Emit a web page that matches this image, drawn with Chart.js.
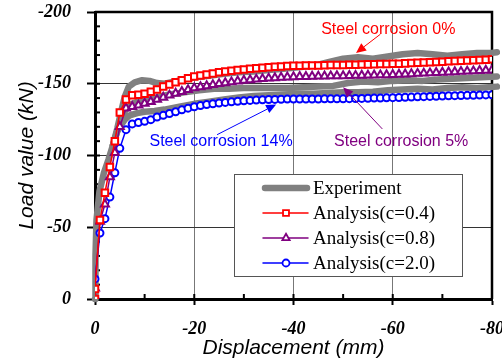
<!DOCTYPE html>
<html>
<head>
  <meta charset="utf-8">
  <title>Load - displacement</title>
  <script src="https://cdn.jsdelivr.net/npm/chart.js@4.4.0/dist/chart.umd.min.js"></script>
  <style>
    html, body { margin: 0; padding: 0; background: #ffffff; }
  </style>
</head>
<body>
<canvas id="myChart" width="502" height="362"></canvas>
<script>
  // analysis results: shared displacement steps (mm)
  const disp = [0, 0, -1, -2, -3, -4, -5, -6.25,
    -7.5, -8.75, -10, -11.25, -12.5, -13.75, -15, -16.25, -17.5, -18.75,
    -20, -21.25, -22.5, -23.75, -25, -26.25, -27.5, -28.75, -30, -31.25,
    -32.5, -33.75, -35, -36.25, -37.5, -38.75, -40, -41.25, -42.5, -43.75,
    -45, -46.25, -47.5, -48.75, -50, -51.25, -52.5, -53.75, -55, -56.25,
    -57.5, -58.75, -60, -61.25, -62.5, -63.75, -65, -66.25, -67.5, -68.75,
    -70, -71.25, -72.5, -73.75, -75, -76.25, -77.5, -78.75, -80];

  const loadC04 = [0, -7, -55, -74, -92, -110, -130, -139,
    -142.0, -142.3, -143.0, -144.5, -146.0, -148.0, -149.5, -151.0, -152.5, -153.8,
    -155.0, -155.8, -156.5, -157.2, -158.0, -158.5, -159.0, -159.5, -160.0, -160.4,
    -160.8, -161.2, -161.5, -161.8, -162.0, -162.3, -162.5, -162.6, -162.7, -162.8,
    -162.8, -162.9, -163.0, -163.0, -163.1, -163.2, -163.3, -163.4, -163.5, -163.6,
    -163.7, -163.8, -163.9, -164.0, -164.2, -164.4, -164.6, -164.8, -165.0, -165.2,
    -165.4, -165.6, -165.8, -166.0, -166.2, -166.4, -166.6, -166.8, -167.0];

  const loadC08 = [0, -7.5, -54, -66, -85, -102, -120, -133,
    -134.0, -135.0, -136.3, -137.5, -139.0, -140.5, -142.0, -143.3, -144.5, -145.8,
    -147.0, -147.8, -148.5, -149.3, -150.0, -150.6, -151.2, -151.8, -152.3, -152.7,
    -153.1, -153.5, -153.8, -154.1, -154.4, -154.6, -154.8, -154.9, -155.0, -155.1,
    -155.2, -155.3, -155.4, -155.5, -155.5, -155.6, -155.7, -155.8, -155.9, -156.0,
    -156.1, -156.2, -156.3, -156.5, -156.7, -156.9, -157.1, -157.3, -157.5, -157.7,
    -157.9, -158.1, -158.3, -158.5, -158.7, -158.9, -159.1, -159.3, -159.5];

  const loadC20 = [0, -14, -46, -56, -71, -88, -105, -118,
    -122.0, -123.0, -123.8, -125.0, -126.8, -128.0, -129.3, -130.5, -131.8, -133.0,
    -134.0, -134.8, -135.5, -136.0, -136.5, -137.0, -137.4, -137.8, -138.1, -138.4,
    -138.6, -138.8, -139.0, -139.1, -139.2, -139.3, -139.4, -139.4, -139.4, -139.4,
    -139.4, -139.5, -139.5, -139.5, -139.5, -139.6, -139.7, -139.8, -139.9, -140.0,
    -140.1, -140.2, -140.3, -140.4, -140.6, -140.7, -140.9, -141.0, -141.2, -141.3,
    -141.5, -141.6, -141.7, -141.8, -141.9, -142.0, -142.1, -142.2, -142.3];

  // experiment (three specimens, drawn in grey)
  const expDisp0 = [0, -0.1, -0.3, -0.9, -1.8, -2.7, -3.6, -4.5, -5.3, -6.0,
    -6.8, -8, -9.5, -11, -12.5, -14, -16, -18, -20, -23,
    -26, -29, -32, -35, -38, -41, -44, -47, -50, -53,
    -56, -59, -62, -65, -68, -71, -74, -77, -80, -81];
  const expLoad0 = [0, -30, -55, -75, -88, -97, -107, -119, -131, -141,
    -148, -151, -152.5, -152, -150.5, -150, -151.5, -153, -154.5, -155.5,
    -157, -158, -158.5, -159.5, -160.5, -161.5, -162.5, -165, -167.5, -168.5,
    -167.5, -169, -170.5, -171.5, -170.5, -169.5, -170.5, -171.5, -171.5, -172];

  const expDisp5 = [-3.6, -4.5, -5.3, -6.2, -7.5, -9, -11, -13, -15, -18, -21,
    -24, -27, -30, -33, -36, -39, -42, -45, -48, -51,
    -54, -57, -60, -63, -66, -69, -72, -75, -78, -81];
  const expLoad5 = [-107, -117, -126, -132, -136, -138, -139.5, -141, -142.5, -144, -145.5,
    -146.5, -146.5, -147, -147, -147, -147, -147.5, -148, -148.5, -150.5,
    -151.5, -151, -152, -152.5, -152, -153, -153.5, -154, -154.5, -155];

  const expDisp14 = [-3.6, -4.5, -5.2, -6, -7, -8.5, -10, -12, -14, -17, -20,
    -23, -26, -29, -32, -35, -38, -41, -44, -47, -50,
    -53, -56, -59, -62, -65, -68, -71, -74, -77, -81];
  const expLoad14 = [-107, -117, -121, -125, -128, -129.5, -130.5, -131, -132, -134, -136,
    -137.5, -139, -140.5, -141.5, -142, -142.5, -143, -143, -143.5, -144,
    -144, -144.5, -145.5, -146, -146.5, -146, -147, -147.5, -147, -148];

  const xTickStep = 20;
  const yTickStep = 50;

  // text notes with arrows, in data units
  const notes = [
    { text: 'Steel corrosion 0%', color: '#ff0000', at: [-59.1, -188], from: [-57.5, -184.5], to: [-52.6, -171.5] },
    { text: 'Steel corrosion 5%', color: '#800080', at: [-61.7, -109.5], from: [-57.9, -118.5], to: [-50.0, -147.5] },
    { text: 'Steel corrosion 14%', color: '#0000ff', at: [-25.4, -109.5], from: [-24.6, -114.5], to: [-36.5, -135.5] }
  ];

  function pts(xs, ys) {
    return xs.map((x, i) => ({ x: x, y: ys[i] }));
  }

  function analysis(label, ys, color, style) {
    return {
      label: label,
      data: pts(disp, ys),
      borderColor: color,
      borderWidth: 1.5,
      pointStyle: style,
      pointRadius: style === 'circle' ? 3.5 : 4.6,
      pointBorderWidth: 2,
      pointBorderColor: color,
      pointBackgroundColor: '#ffffff',
      tension: 0
    };
  }

  function experiment(label, xs, ys) {
    return {
      label: label,
      data: pts(xs, ys),
      borderColor: '#808080',
      borderWidth: 6.5,
      borderJoinStyle: 'round',
      borderCapStyle: 'round',
      pointRadius: 0,
      tension: 0,
      clip: 8
    };
  }

  const frameAndTicks = {
    id: 'frameAndTicks',
    beforeDatasetsDraw(chart) {
      const ctx = chart.ctx;
      const a = chart.chartArea;
      const xs = chart.scales.x, ys = chart.scales.y;
      ctx.save();
      ctx.strokeStyle = '#000';
      ctx.lineWidth = 2;
      for (let v = 0; v >= -80; v -= 10) {
        const px = xs.getPixelForValue(v);
        ctx.beginPath(); ctx.moveTo(px, a.bottom); ctx.lineTo(px, a.bottom - 5); ctx.stroke();
      }
      for (let v = 0; v >= -200; v -= 10) {
        const py = ys.getPixelForValue(v);
        ctx.beginPath(); ctx.moveTo(a.left, py); ctx.lineTo(a.left + 5, py); ctx.stroke();
      }
      ctx.lineWidth = 2.5;
      ctx.beginPath();
      ctx.moveTo(a.left, a.top); ctx.lineTo(a.right, a.top); ctx.lineTo(a.right, a.bottom);
      ctx.stroke();
      ctx.restore();
    }
  };

  function arrow(ctx, x1, y1, x2, y2, color) {
    const ang = Math.atan2(y2 - y1, x2 - x1);
    const len = 10, half = 4.5;
    ctx.strokeStyle = color;
    ctx.fillStyle = color;
    ctx.lineWidth = 1;
    ctx.beginPath();
    ctx.moveTo(x1, y1);
    ctx.lineTo(x2 - Math.cos(ang) * len, y2 - Math.sin(ang) * len);
    ctx.stroke();
    ctx.beginPath();
    ctx.moveTo(x2, y2);
    ctx.lineTo(x2 - Math.cos(ang) * len - Math.sin(ang) * half, y2 - Math.sin(ang) * len + Math.cos(ang) * half);
    ctx.lineTo(x2 - Math.cos(ang) * len + Math.sin(ang) * half, y2 - Math.sin(ang) * len - Math.cos(ang) * half);
    ctx.closePath();
    ctx.fill();
  }

  const notesAndLegend = {
    id: 'notesAndLegend',
    afterDraw(chart) {
      const ctx = chart.ctx;
      const xs = chart.scales.x, ys = chart.scales.y;
      ctx.save();

      // legend box
      const box = { left: 234, top: 174, right: 462, bottom: 276 };
      ctx.fillStyle = '#ffffff';
      ctx.fillRect(box.left, box.top, box.right - box.left, box.bottom - box.top);
      ctx.strokeStyle = '#555';
      ctx.lineWidth = 1;
      ctx.strokeRect(box.left + 0.5, box.top + 0.5, box.right - box.left, box.bottom - box.top);

      const sets = chart.data.datasets;
      const entries = [
        { ds: sets[5], label: 'Experiment' },
        { ds: sets[0], label: sets[0].label },
        { ds: sets[1], label: sets[1].label },
        { ds: sets[2], label: sets[2].label }
      ];
      ctx.font = '19px "Liberation Serif"';
      ctx.textBaseline = 'middle';
      ctx.textAlign = 'left';
      entries.forEach((e, i) => {
        const y = 188 + i * 25;
        ctx.strokeStyle = e.ds.borderColor;
        ctx.lineWidth = e.ds.borderWidth;
        ctx.lineCap = 'round';
        ctx.beginPath();
        ctx.moveTo(i === 0 ? 265 : 263, y);
        ctx.lineTo(i === 0 ? 307 : 308, y);
        ctx.stroke();
        ctx.lineCap = 'butt';
        if (e.ds.pointRadius > 0) {
          ctx.fillStyle = e.ds.pointBackgroundColor;
          ctx.strokeStyle = e.ds.pointBorderColor;
          ctx.lineWidth = 1.8;
          Chart.helpers.drawPoint(ctx, { pointStyle: e.ds.pointStyle, radius: e.ds.pointStyle === 'circle' ? 3.5 : 4.2, rotation: 0, borderWidth: 1.8 }, 286, y);
        }
        ctx.fillStyle = '#000';
        ctx.fillText(e.label, 313, y + 1);
      });

      // notes
      ctx.font = '16px "Liberation Sans"';
      ctx.textAlign = 'center';
      notes.forEach(n => {
        ctx.fillStyle = n.color;
        ctx.fillText(n.text, xs.getPixelForValue(n.at[0]), ys.getPixelForValue(n.at[1]));
        arrow(ctx, xs.getPixelForValue(n.from[0]), ys.getPixelForValue(n.from[1]),
          xs.getPixelForValue(n.to[0]), ys.getPixelForValue(n.to[1]), n.color);
      });
      ctx.restore();
    }
  };

  const tickFont = { family: 'Liberation Serif', size: 18, style: 'italic', weight: 'bold' };
  const titleFont = { family: 'Liberation Sans', size: 21, style: 'italic' };

  const ctx = document.getElementById('myChart').getContext('2d');
  const myChart = new Chart(ctx, {
    type: 'line',
    data: {
      datasets: [
        analysis('Analysis(c=0.4)', loadC04, '#ff0000', 'rect'),
        analysis('Analysis(c=0.8)', loadC08, '#800080', 'triangle'),
        analysis('Analysis(c=2.0)', loadC20, '#0000ff', 'circle'),
        experiment('Experiment 0%', expDisp0, expLoad0),
        experiment('Experiment 5%', expDisp5, expLoad5),
        experiment('Experiment 14%', expDisp14, expLoad14)
      ]
    },
    options: {
      responsive: false,
      animation: false,
      layout: { padding: { top: 12, right: 10, left: 0, bottom: 0 } },
      plugins: { legend: { display: false }, tooltip: { enabled: false } },
      scales: {
        x: {
          type: 'linear',
          min: -80, max: 0, reverse: true,
          ticks: { stepSize: xTickStep, color: '#000', font: tickFont, padding: 14, maxRotation: 0 },
          grid: { color: '#777', lineWidth: 1, tickLength: 6, tickColor: '#000', tickWidth: 2 },
          border: { color: '#000', width: 3 },
          title: { display: true, text: 'Displacement (mm)', color: '#000', font: titleFont, padding: { top: 0, bottom: 1 } },
          afterFit(scale) { scale.height = 63; scale.paddingLeft = 0; scale.paddingRight = 0; }
        },
        y: {
          type: 'linear',
          min: -200, max: 0, reverse: true,
          ticks: { stepSize: yTickStep, color: '#000', font: tickFont, padding: 16 },
          grid: { color: '#333', lineWidth: 1, tickLength: 8, tickColor: '#000', tickWidth: 2 },
          border: { color: '#000', width: 3 },
          title: { display: true, text: 'Load value (kN)', color: '#000', font: titleFont, padding: { top: 15, bottom: 0 } },
          afterFit(scale) { scale.width = 95; scale.paddingTop = 0; scale.paddingBottom = 0; }
        }
      }
    },
    plugins: [frameAndTicks, notesAndLegend]
  });
</script>
</body>
</html>
